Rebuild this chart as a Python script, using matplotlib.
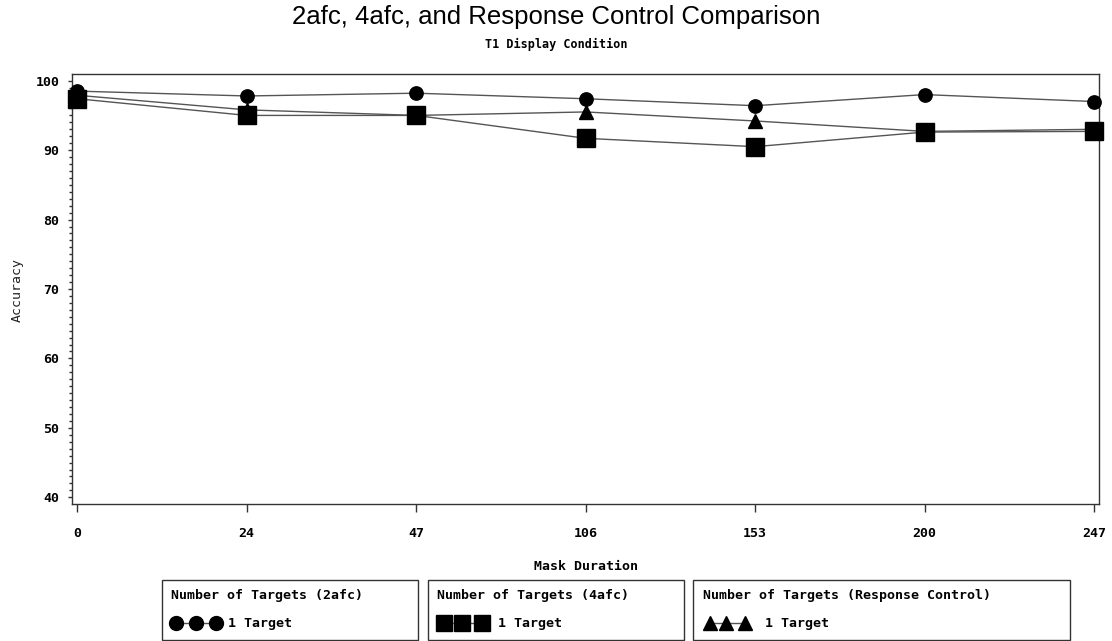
import matplotlib
matplotlib.use("Agg")
import matplotlib.pyplot as plt
from matplotlib.lines import Line2D
from matplotlib.patches import Rectangle
from matplotlib.ticker import MultipleLocator

# ---- data ----
mask_labels = ["0", "24", "47", "106", "153", "200", "247"]
acc_2afc = [98.5, 97.8, 98.2, 97.4, 96.4, 98.0, 97.0]
acc_4afc = [97.4, 95.0, 95.0, 91.7, 90.5, 92.6, 92.7]
acc_rc = [97.9, 95.8, 95.0, 95.5, 94.2, 92.7, 93.0]

title = "2afc, 4afc, and Response Control Comparison"
subtitle = "T1 Display Condition"
legend_titles = ["Number of Targets (2afc)", "Number of Targets (4afc)",
                 "Number of Targets (Response Control)"]
legend_label = "1 Target"

W, H = 1112, 641
fig = plt.figure(figsize=(W / 100, H / 100), dpi=100)


def fx(x):
    return x / W


def fy(y):
    return 1 - y / H


MONO = "DejaVu Sans Mono"
LINE_C = "#555555"
SPINE_C = "#333333"

ax_l, ax_r, ax_t, ax_b = 72.3, 1099, 74, 504
ax = fig.add_axes([fx(ax_l), fy(ax_b), fx(ax_r) - fx(ax_l), fy(ax_t) - fy(ax_b)])

xs = list(range(len(mask_labels)))
ax.plot(xs, acc_2afc, color=LINE_C, lw=1.0, marker="o", ms=9.6,
        mfc="black", mec="black", zorder=3, clip_on=False)
ax.plot(xs, acc_rc, color=LINE_C, lw=1.0, marker="^", ms=10.5,
        mfc="black", mec="black", zorder=3, clip_on=False)
ax.plot(xs, acc_4afc, color=LINE_C, lw=1.0, marker="s", ms=12.5,
        mfc="black", mec="black", zorder=4, clip_on=False)

ax.set_xlim(-0.0295, 6.0295)
ax.set_ylim(39.035, 100.965)
ax.set_xticks(xs)
ax.set_xticklabels(mask_labels)
ax.yaxis.set_major_locator(MultipleLocator(10))
ax.yaxis.set_minor_locator(MultipleLocator(1))
ax.set_yticks(range(40, 101, 10))

for sp in ax.spines.values():
    sp.set_color(SPINE_C)
    sp.set_linewidth(1.0)

ax.tick_params(axis="x", direction="out", length=5.5, width=1.0, color=SPINE_C,
               pad=11, labelsize=9.5)
ax.tick_params(axis="y", which="major", direction="out", length=3.2, width=1.0,
               color=SPINE_C, pad=6, labelsize=9.5)
ax.tick_params(axis="y", which="minor", direction="out", length=2.2, width=1.0,
               color=SPINE_C)
for lab in ax.get_xticklabels() + ax.get_yticklabels():
    lab.set_fontfamily(MONO)
    lab.set_fontweight("bold")

# axis labels (figure positioned)
fig.text(fx(586), fy(567), "Mask Duration", ha="center", va="center",
         family=MONO, fontweight="bold", fontsize=9.5)
fig.text(fx(17), fy(290), "Accuracy", ha="center", va="center", rotation=90,
         family=MONO, fontsize=9.5, color="#222222")

# titles
fig.text(0.5, fy(17), title, ha="center", va="center",
         family="Liberation Sans", fontsize=18.5)
fig.text(0.5, fy(44), subtitle, ha="center", va="center",
         family=MONO, fontweight="bold", fontsize=8.5)

# legends (manual boxes)
boxes = [(162, 418), (428, 684), (693, 1070)]
box_top, box_bot = 580, 640
markers = ["o", "s", "^"]
msizes = [10, 11, 10.5]
marker_x = [[176.3, 196.3, 216.3], [444, 462, 482], [709.7, 725.7, 745]]
text_x = [228, 498, 765]
title_x = [171, 437, 703]
row1, row2 = 595, 623
for i, (x0, x1) in enumerate(boxes):
    fig.add_artist(Rectangle((fx(x0), fy(box_bot)), fx(x1) - fx(x0),
                             fy(box_top) - fy(box_bot), transform=fig.transFigure,
                             fill=False, ec=SPINE_C, lw=1.0))
    fig.text(fx(title_x[i]), fy(row1), legend_titles[i], ha="left", va="center",
             family=MONO, fontweight="bold", fontsize=9.5)
    mx = [fx(v) for v in marker_x[i]]
    fig.add_artist(Line2D(mx, [fy(row2)] * 3, transform=fig.transFigure,
                          color=LINE_C, lw=1.0, marker=markers[i], ms=msizes[i],
                          mfc="black", mec="black"))
    fig.text(fx(text_x[i]), fy(row2), legend_label, ha="left", va="center",
             family=MONO, fontweight="bold", fontsize=9.5)

fig.savefig("out.png", dpi=100)
